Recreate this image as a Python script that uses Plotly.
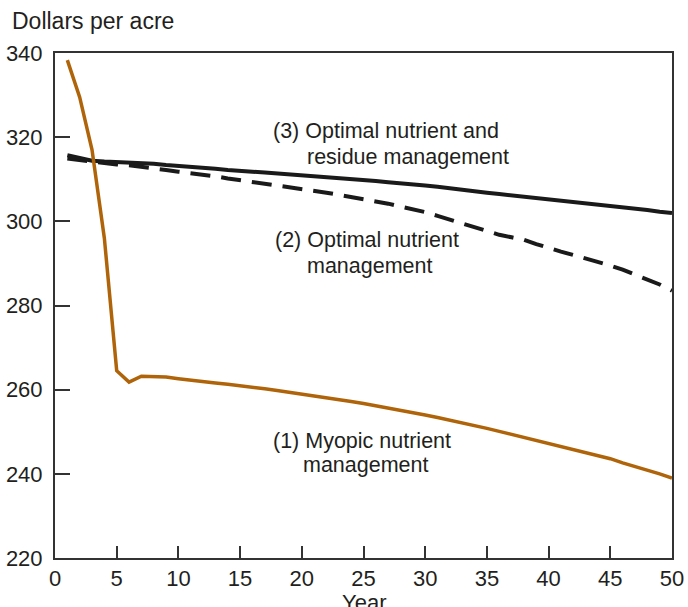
import plotly.graph_objects as go

years = list(range(1, 51))

myopic = [338.3, 329.5, 317.0, 296.0, 264.5, 261.8, 263.2, 263.2, 263.0, 262.6,
          262.2, 261.9, 261.6, 261.3, 261.0, 260.6, 260.2, 259.8, 259.4, 259.0,
          258.5, 258.1, 257.7, 257.2, 256.7, 256.2, 255.7, 255.1, 254.5, 254.0,
          253.4, 252.8, 252.2, 251.5, 250.8, 250.1, 249.4, 248.7, 248.0, 247.3,
          246.6, 245.9, 245.2, 244.4, 243.6, 242.6, 241.8, 241.0, 240.0, 239.0]

optimal_nutrient = [314.9, 314.5, 314.1, 313.8, 313.5, 313.3, 313.0, 312.6, 312.2, 311.8,
                    311.5, 311.1, 310.7, 310.2, 309.8, 309.4, 309.0, 308.6, 308.2, 307.8,
                    307.3, 306.8, 306.3, 305.8, 305.3, 304.8, 304.2, 303.5, 302.9, 302.2,
                    301.3, 300.4, 299.5, 298.6, 297.6, 296.8, 296.2, 295.6, 294.6, 293.6,
                    292.8, 292.0, 291.2, 290.4, 289.5, 288.5, 287.4, 286.3, 285.0, 283.5]

optimal_residue = [315.7, 315.0, 314.4, 314.2, 314.1, 314.0, 313.9, 313.7, 313.4, 313.2,
                   313.1, 312.8, 312.5, 312.2, 311.9, 311.8, 311.6, 311.4, 311.2, 311.0,
                   310.8, 310.6, 310.3, 310.1, 309.8, 309.6, 309.3, 309.1, 308.8, 308.5,
                   308.2, 307.8, 307.5, 307.1, 306.8, 306.5, 306.2, 305.9, 305.6, 305.3,
                   305.0, 304.7, 304.4, 304.0, 303.6, 303.3, 303.0, 302.7, 302.3, 302.0]

x_ticks = list(range(0, 51, 5))
y_ticks = list(range(220, 341, 20))

FONT = "Liberation Sans, Arial, Helvetica, sans-serif"
TXT = "#231f20"

fig = go.Figure()
fig.add_trace(go.Scatter(x=years, y=optimal_nutrient, mode="lines",
                         line=dict(color="#1a1a1a", width=4, dash="20px,11px"),
                         name="(2) Optimal nutrient management"))
fig.add_trace(go.Scatter(x=years, y=optimal_residue, mode="lines",
                         line=dict(color="#1a1a1a", width=4),
                         name="(3) Optimal nutrient and residue management"))
fig.add_trace(go.Scatter(x=years, y=myopic, mode="lines",
                         line=dict(color="#b0640a", width=3.5),
                         name="(1) Myopic nutrient management"))

labels = [
    ("(3) Optimal nutrient and", 17.64, 321.4),
    ("residue management", 20.4, 315.2),
    ("(2) Optimal nutrient", 17.8, 295.5),
    ("management", 20.4, 289.5),
    ("(1) Myopic nutrient", 17.64, 247.9),
    ("management", 20.1, 242.1),
]
for text, x, y in labels:
    fig.add_annotation(x=x, y=y, text=text, showarrow=False, xanchor="left",
                       yanchor="middle", xshift=-2,
                       font=dict(family=FONT, size=21.5, color=TXT))

fig.add_annotation(xref="paper", yref="paper", x=-0.073, y=1.063, text="Dollars per acre",
                   showarrow=False, xanchor="left", yanchor="middle",
                   font=dict(family=FONT, size=23, color=TXT))
fig.add_annotation(xref="paper", yref="paper", x=0.501, y=-0.089, text="Year",
                   showarrow=False, xanchor="center", yanchor="middle",
                   font=dict(family=FONT, size=22, color=TXT))

fig.update_layout(
    width=688, height=607,
    margin=dict(l=55, r=16, t=53, b=49, autoexpand=False),
    paper_bgcolor="white", plot_bgcolor="white",
    showlegend=False,
    font=dict(family=FONT, size=22, color=TXT),
    xaxis=dict(range=[0, 50], tickvals=x_ticks, ticks="inside", ticklen=12, tickwidth=1.5,
               tickcolor="#333", showline=True, linecolor="#333", linewidth=2, mirror=True,
               showgrid=False, zeroline=False, ticklabelstandoff=0,
               tickfont=dict(family=FONT, size=22, color=TXT)),
    yaxis=dict(range=[220, 340], tickvals=y_ticks, ticks="inside", ticklen=15, tickwidth=1.5,
               tickcolor="#333", showline=True, linecolor="#333", linewidth=2, mirror=True,
               showgrid=False, zeroline=False, ticklabelstandoff=6,
               tickfont=dict(family=FONT, size=22, color=TXT)),
)

fig.write_html("out.html", config={"displayModeBar": False},
               post_script="document.body.style.margin='0px';document.body.style.overflow='hidden';")
